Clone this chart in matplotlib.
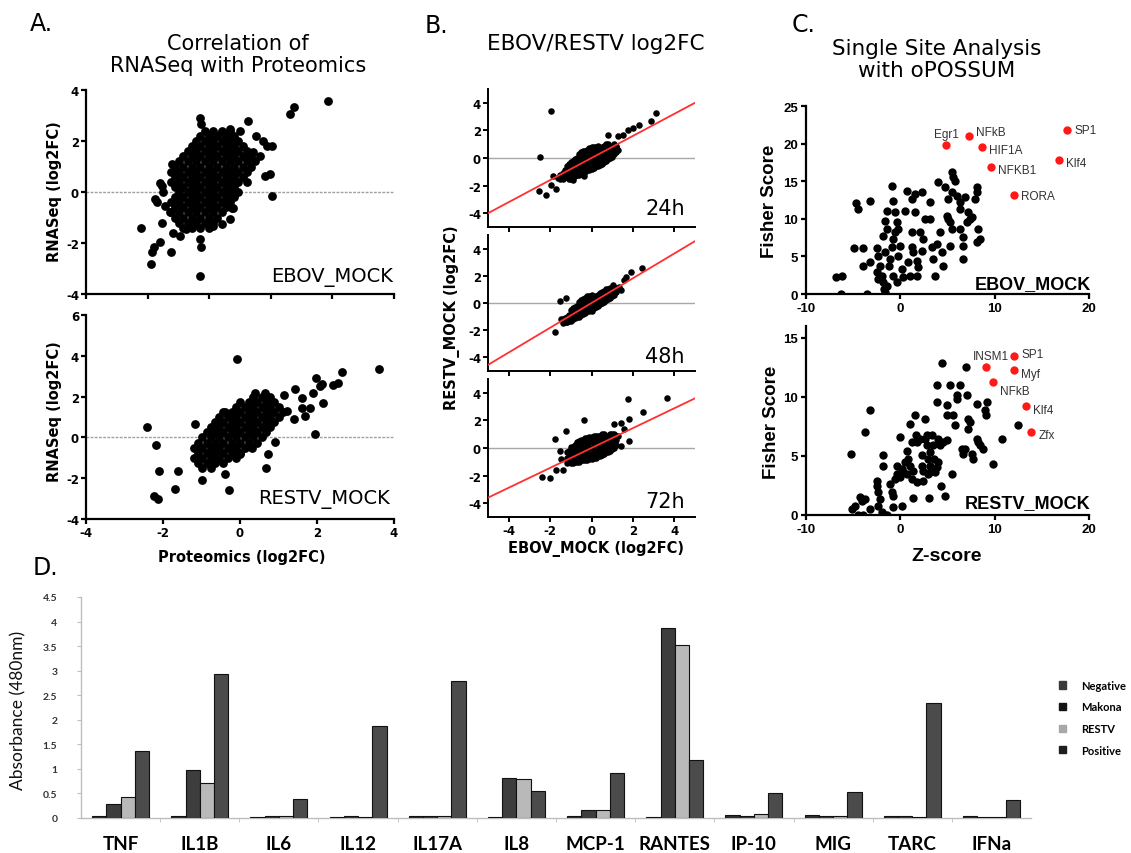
import matplotlib
matplotlib.use('Agg')
import matplotlib.pyplot as plt
from matplotlib.patches import Patch

plt.rcParams['axes.unicode_minus'] = False

W, H = 1131, 854

# ---------------- panel A: RNASeq vs Proteomics (log2FC) ----------------
# dense cloud written row by row: (y, [x ...])
a_top_rows = [
    (2.4, [-0.92, -0.7, -0.48, -0.26]),
    (2.2, [-1.03, -0.81, -0.59, -0.37, -0.15]),
    (2.0, [-1.14, -0.92, -0.7, -0.48, -0.26, -0.04]),
    (1.8, [-1.25, -1.03, -0.81, -0.59, -0.37, -0.15, 0.07]),
    (1.6, [-1.36, -1.14, -0.92, -0.7, -0.48, -0.26, -0.04, 0.18]),
    (1.4, [-1.47, -1.25, -1.03, -0.81, -0.59, -0.37, -0.15, 0.07, 0.29]),
    (1.2, [-1.58, -1.36, -1.14, -0.92, -0.7, -0.48, -0.26, -0.04, 0.18, 0.4]),
    (1.0, [-1.69, -1.47, -1.25, -1.03, -0.81, -0.59, -0.37, -0.15, 0.07, 0.29]),
    (0.8, [-1.8, -1.58, -1.36, -1.14, -0.92, -0.7, -0.48, -0.26, -0.04, 0.18]),
    (0.6, [-1.69, -1.47, -1.25, -1.03, -0.81, -0.59, -0.37, -0.15, 0.07]),
    (0.4, [-1.8, -1.58, -1.36, -1.14, -0.92, -0.7, -0.48, -0.26, -0.04, 0.18]),
    (0.2, [-1.69, -1.47, -1.25, -1.03, -0.81, -0.59, -0.37, -0.15]),
    (0.0, [-1.58, -1.36, -1.14, -0.92, -0.7, -0.48, -0.26, -0.04]),
    (-0.2, [-1.69, -1.47, -1.25, -1.03, -0.81, -0.59, -0.37, -0.15]),
    (-0.4, [-1.8, -1.58, -1.36, -1.14, -0.92, -0.7, -0.48, -0.26]),
    (-0.6, [-1.69, -1.47, -1.25, -1.03, -0.81, -0.59, -0.37]),
    (-0.8, [-1.8, -1.58, -1.36, -1.14, -0.92, -0.7, -0.48]),
    (-1.0, [-1.69, -1.47, -1.25, -1.03, -0.81, -0.59]),
    (-1.2, [-1.58, -1.36, -1.14, -0.92, -0.7]),
    (-1.4, [-1.47, -1.25, -1.03, -0.81]),
]
a_top_out_x = [-2.58, -2.32, -2.29, -2.23, -2.09, -2.09, -2.03, -2.21, -2.16, -1.96,
               -1.99, -2.03, -1.80, -1.77, -1.04, -1.01, -1.04, -1.01, -1.04, -0.47,
               -0.26, -0.21, 0.22, 0.42, 0.61, 0.69, 0.82, 0.65, 0.77, 0.82,
               1.30, 1.40, 2.28, 0.52, 0.35, 0.17, 0.0, -0.26, -0.47, -0.17,
               -1.82, -1.73, -1.56, -1.39, -0.69]
a_top_out_y = [-1.43, -2.83, -2.37, -2.17, -1.98, 0.37, 0.24, -0.28, -0.41, -0.54,
               0.0, -1.2, -2.37, 1.09, 2.92, 2.66, -1.85, -2.17, -3.28, -1.26,
               -1.07, -0.61, 2.79, 2.2, 2.0, 1.81, 1.81, 0.63, 0.70, -0.15,
               3.05, 3.33, 3.57, 1.42, 1.55, 1.28, 2.39, 2.46, 2.36, -0.61,
               -0.8, -1.59, -1.72, -1.46, -1.33]

a_bot_rows = [
    (2.0, [0.34, 0.56, 0.78]),
    (1.75, [0.01, 0.23, 0.45, 0.67, 0.89]),
    (1.5, [-0.1, 0.12, 0.34, 0.56, 0.78, 1.0]),
    (1.25, [-0.43, -0.21, 0.01, 0.23, 0.45, 0.67, 0.89, 1.11]),
    (1.0, [-0.54, -0.32, -0.1, 0.12, 0.34, 0.56, 0.78, 1.0]),
    (0.75, [-0.65, -0.43, -0.21, 0.01, 0.23, 0.45, 0.67, 0.89]),
    (0.5, [-0.76, -0.54, -0.32, -0.1, 0.12, 0.34, 0.56, 0.78]),
    (0.25, [-0.87, -0.65, -0.43, -0.21, 0.01, 0.23, 0.45, 0.67]),
    (0.0, [-0.98, -0.76, -0.54, -0.32, -0.1, 0.12, 0.34, 0.56]),
    (-0.25, [-1.09, -0.87, -0.65, -0.43, -0.21, 0.01, 0.23, 0.45]),
    (-0.5, [-1.2, -0.98, -0.76, -0.54, -0.32, -0.1, 0.12, 0.3]),
    (-0.75, [-1.09, -0.87, -0.65, -0.43, -0.21, 0.01]),
    (-1.0, [-1.2, -0.98, -0.76, -0.54, -0.32, -0.1]),
    (-1.25, [-1.09, -0.87, -0.65, -0.43]),
    (-1.5, [-0.98, -0.76]),
]
a_bot_out_x = [-0.09, -2.42, -2.18, -1.17, -2.10, -1.61, -1.70, -2.23, -2.13, -0.99,
               -0.39, -0.28, -0.39, 0.0, 0.39, 0.65, 0.67, 0.74, 0.91, 1.43,
               1.60, 1.60, 1.69, 1.82, 1.90, 1.97, 2.07, 2.16, 2.12, 1.95,
               2.42, 2.55, 2.64, 3.62, 1.39, 1.22, 1.13]
a_bot_out_y = [3.85, 0.49, -0.36, 0.65, -1.67, -1.63, -2.52, -2.88, -3.0, -2.11,
               -1.79, -2.6, 1.25, -0.81, 2.2, 2.2, -1.51, -0.81, -0.21, 2.36,
               1.95, 1.46, 1.06, 1.46, 2.2, 2.93, 2.52, 1.71, 2.6, 0.16,
               2.55, 2.65, 3.2, 3.37, 0.9, 1.3, 2.1]

# ---------------- panel B: EBOV_MOCK vs RESTV_MOCK ----------------
# dense cloud written column by column: (x, [y ...])
b_rows = {
    '24h': [
        (-1.5, [-1.5, -1.2]),
        (-1.4, [-1.5, -1.1]),
        (-1.3, [-1.3, -0.9]),
        (-1.2, [-1.4, -1.0, -0.6]),
        (-1.1, [-1.5, -1.2, -0.8, -0.4]),
        (-1.0, [-1.5, -1.1, -0.7, -0.3]),
        (-0.9, [-1.4, -1.0, -0.6, -0.2]),
        (-0.8, [-1.3, -0.9, -0.5, -0.1]),
        (-0.7, [-1.2, -0.8, -0.4, 0.0]),
        (-0.6, [-1.2, -0.8, -0.4, 0.0, 0.3]),
        (-0.5, [-1.1, -0.7, -0.3, 0.1, 0.4]),
        (-0.4, [-1.0, -0.6, -0.2, 0.2, 0.5]),
        (-0.3, [-1.0, -0.6, -0.2, 0.2, 0.5]),
        (-0.2, [-0.9, -0.5, -0.1, 0.3, 0.6]),
        (-0.1, [-0.9, -0.5, -0.1, 0.3, 0.7]),
        (0.0, [-0.8, -0.4, 0.0, 0.4, 0.8]),
        (0.1, [-0.7, -0.3, 0.1, 0.5, 0.8]),
        (0.2, [-0.6, -0.2, 0.2, 0.6, 0.8]),
        (0.3, [-0.6, -0.2, 0.2, 0.6, 0.9]),
        (0.4, [-0.5, -0.1, 0.3, 0.7]),
        (0.5, [-0.4, 0.0, 0.4, 0.8]),
        (0.6, [-0.3, 0.1, 0.5, 0.9]),
        (0.7, [-0.2, 0.2, 0.6, 1.0]),
        (0.8, [-0.1, 0.3, 0.7, 1.0]),
        (0.9, [0.0, 0.4, 0.8]),
        (1.0, [0.1, 0.5, 0.9]),
        (1.1, [0.3, 0.7, 1.0]),
        (1.2, [0.4, 0.8]),
    ],
    '48h': [
        (-1.4, [-1.5, -1.2]),
        (-1.3, [-1.4, -1.1]),
        (-1.2, [-1.4, -1.0]),
        (-1.1, [-1.3, -0.9]),
        (-1.0, [-1.3, -0.9, -0.5]),
        (-0.9, [-1.2, -0.8, -0.4]),
        (-0.8, [-1.1, -0.7, -0.3]),
        (-0.7, [-1.0, -0.6, -0.2]),
        (-0.6, [-1.0, -0.6, -0.2, 0.1]),
        (-0.5, [-0.9, -0.5, -0.1, 0.2]),
        (-0.4, [-0.8, -0.4, 0.0, 0.3]),
        (-0.3, [-0.7, -0.3, 0.1, 0.4]),
        (-0.2, [-0.6, -0.2, 0.2, 0.5]),
        (-0.1, [-0.6, -0.2, 0.2, 0.5]),
        (0.0, [-0.6, -0.2, 0.2, 0.6]),
        (0.1, [-0.4, 0.0, 0.4]),
        (0.2, [-0.3, 0.1, 0.5]),
        (0.3, [-0.2, 0.2, 0.6]),
        (0.4, [-0.1, 0.3, 0.7]),
        (0.5, [0.0, 0.4, 0.8]),
        (0.6, [0.1, 0.5, 0.9]),
        (0.7, [0.2, 0.6, 1.0]),
        (0.8, [0.3, 0.7, 1.0]),
        (0.9, [0.4, 0.8, 1.1]),
        (1.0, [0.5, 0.9]),
        (1.1, [0.6, 1.0]),
        (1.2, [0.8, 1.1]),
    ],
    '72h': [
        (-1.2, [-1.1, -0.7, -0.3]),
        (-1.1, [-1.0, -0.6, -0.2]),
        (-1.0, [-1.1, -0.7, -0.3, 0.1]),
        (-0.9, [-1.1, -0.7, -0.3, 0.1]),
        (-0.8, [-1.0, -0.6, -0.2, 0.2]),
        (-0.7, [-1.0, -0.6, -0.2, 0.2, 0.4]),
        (-0.6, [-1.0, -0.6, -0.2, 0.2, 0.5]),
        (-0.5, [-0.9, -0.5, -0.1, 0.3, 0.6]),
        (-0.4, [-0.9, -0.5, -0.1, 0.3, 0.6]),
        (-0.3, [-0.9, -0.5, -0.1, 0.3, 0.7]),
        (-0.2, [-0.9, -0.5, -0.1, 0.3, 0.7]),
        (-0.1, [-0.8, -0.4, 0.0, 0.4, 0.8]),
        (0.0, [-0.8, -0.4, 0.0, 0.4, 0.8]),
        (0.1, [-0.7, -0.3, 0.1, 0.5, 0.9]),
        (0.2, [-0.7, -0.3, 0.1, 0.5, 0.9]),
        (0.3, [-0.6, -0.2, 0.2, 0.6, 0.9]),
        (0.4, [-0.6, -0.2, 0.2, 0.6, 0.9]),
        (0.5, [-0.5, -0.1, 0.3, 0.7, 1.0]),
        (0.6, [-0.4, 0.0, 0.4, 0.8, 1.0]),
        (0.7, [-0.3, 0.1, 0.5, 0.9]),
        (0.8, [-0.3, 0.1, 0.5, 0.9]),
        (0.9, [-0.2, 0.2, 0.6, 1.0]),
        (1.0, [-0.1, 0.3, 0.7, 1.0]),
        (1.1, [0.0, 0.4, 0.8, 1.0]),
        (1.2, [0.2, 0.6, 0.9]),
    ],
}
b_out_x = {
    '24h': [-1.94, -2.5, -2.53, -2.18, -1.94, -1.70, -1.86, -1.62, 3.11, 2.87,
            2.31, 1.99, 1.75, 1.51, 1.27, 0.79, 1.19, 1.27, -0.90, -0.34],
    '48h': [-1.78, -1.54, -1.22, -1.46, -1.22, 1.03, 1.35, 1.43, 1.59, 1.68,
            1.92, 2.45],
    '72h': [-2.37, -2.02, -1.70, -1.38, -1.78, -1.22, -0.34, 1.75, 2.47, 3.67,
            1.83, 1.43, 1.11, 1.43, 1.83, 1.59, 1.27, -1.54, -1.46],
}
b_out_y = {
    '24h': [3.39, 0.05, -2.38, -2.67, -1.94, -2.25, -1.33, -1.45, 3.27, 2.67,
            2.42, 2.18, 2.06, 1.70, 1.58, 1.70, 0.85, 0.61, -1.58, -1.33],
    '48h': [-2.14, 0.12, 0.36, -1.19, -1.43, 1.31, 1.19, 0.95, 1.67, 1.94,
            2.3, 2.6],
    '72h': [-2.11, -2.18, -1.63, -1.63, 0.65, 1.25, 2.01, 3.57, 2.63, 3.59,
            2.08, 1.84, 1.72, 0.17, 0.53, 1.37, 0.89, -0.19, -0.79],
}
b_slope = {'24h': 0.80, '48h': 0.91, '72h': 0.72}
b_times = ['24h', '48h', '72h']

# ---------------- panel C: oPOSSUM single site analysis ----------------
c_top_x = [-6.82, -6.22, -6.29, -4.70, -4.45, -3.22, -4.91, -3.92, -3.92, -3.22,
           -3.57, -2.51, -2.33, -2.16, -2.51, -2.33, -1.80, -1.73, -1.63, -1.45,
           -1.98, -1.63, -1.80, -1.45, -1.63, -1.38, -0.92, -0.74, -0.57, -0.39,
           -0.21, -0.57, -0.74, -0.92, -1.10, -1.17, -0.74, -0.39, -0.21, -0.04,
           0.14, 0.32, 0.67, 0.49, 0.85, 1.02, 1.20, 1.20, 1.38, 1.55,
           1.55, 1.20, 1.73, 1.73, 1.91, 2.08, 2.26, 2.26, 2.44, 2.61,
           3.14, 3.14, 3.32, 3.50, 3.67, 3.85, 4.03, 4.20, 4.38, 4.56,
           4.73, 4.91, 5.09, 5.09, 5.27, 5.44, 5.44, 5.27, 5.44, 5.62,
           5.80, 5.97, 6.33, 6.33, 6.33, 6.68, 6.68, 6.68, 6.86, 7.03,
           7.21, 7.39, 7.56, 7.92, 8.09, 8.09, 8.09, 8.45, 8.27]
c_top_y = [2.22, 2.44, 0.0, 12.10, 11.30, 12.41, 6.07, 6.07, 3.77, 4.21,
           0.0, 6.07, 5.10, 3.77, 2.88, 1.99, 1.55, 0.66, 0.22, 1.11,
           2.44, 5.54, 7.76, 8.64, 9.75, 11.08, 14.41, 12.41, 10.86, 9.53,
           8.64, 8.20, 7.31, 6.21, 4.65, 3.77, 2.44, 1.55, 5.10, 6.43,
           3.32, 2.22, 13.74, 11.08, 4.21, 2.44, 8.20, 6.21, 5.54, 13.30,
           10.86, 12.63, 4.43, 2.44, 3.55, 8.20, 13.52, 5.76, 7.31, 9.97,
           12.19, 9.97, 6.21, 4.65, 2.44, 6.65, 14.85, 8.20, 5.54, 3.77,
           14.18, 10.42, 12.63, 9.97, 9.53, 13.52, 8.64, 6.43, 16.18, 15.51,
           15.07, 13.08, 12.19, 11.30, 8.64, 7.54, 6.43, 4.65, 12.85, 9.53,
           10.86, 9.97, 10.20, 12.63, 13.52, 14.18, 6.87, 7.31, 8.64]
c_top_tf = ['Egr1', 'NFkB', 'HIF1A', 'NFKB1', 'RORA', 'SP1', 'Klf4']
c_top_tf_x = [4.85, 7.3, 8.7, 9.6, 12.0, 17.7, 16.8]
c_top_tf_y = [19.8, 21.0, 19.5, 16.9, 13.2, 21.8, 17.8]

c_bot_x = [-5.23, -5.16, -4.81, -4.45, -4.28, -4.10, -3.92, -3.75, -3.22, -3.75,
           -3.22, -2.51, -2.51, -2.33, -2.16, -2.33, -1.98, -1.80, -1.80, -1.63,
           -1.45, -1.10, -0.92, -0.74, -0.74, -0.57, -0.39, -0.39, -0.04, -0.04,
           0.14, 0.32, 0.14, 0.49, 0.67, 0.85, 0.67, 1.02, 1.20, 1.02,
           1.20, 1.38, 1.55, 1.66, 1.80, 1.73, 2.08, 2.26, 2.26, 2.37,
           2.44, 2.61, 2.61, 2.79, 2.79, 2.97, 2.97, 3.14, 3.14, 3.14,
           3.32, 3.50, 3.57, 3.67, 3.85, 4.03, 4.03, 3.85, 3.85, 4.20,
           4.28, 4.56, 4.73, 4.91, 4.91, 4.91, 5.44, 5.27, 5.62, 5.80,
           5.97, 5.97, 6.33, 6.50, 6.68, 6.86, 6.96, 7.10, 7.21, 7.21,
           7.39, 7.56, 7.74, 8.09, 8.09, 8.27, 8.45, 8.80, 8.98, 9.08,
           9.15, 9.86, 10.74, 12.51, 4.38, 1.38, 3.04]
c_bot_y = [5.18, 0.51, 0.79, 0.0, 1.50, 1.22, 0.0, 1.36, 8.86, 7.02,
           0.51, 2.92, 2.49, 1.92, 1.36, 0.79, 0.23, 5.04, 4.19, 0.0,
           0.0, 2.63, 1.92, 1.64, 0.65, 3.06, 3.48, 4.19, 3.20, 6.60,
           3.91, 3.62, 0.79, 4.47, 5.46, 4.76, 3.48, 4.19, 3.06, 7.73,
           6.17, 3.76, 8.43, 6.74, 6.17, 2.77, 6.45, 5.04, 4.19, 3.76,
           2.92, 8.15, 6.45, 6.74, 5.89, 4.76, 3.48, 5.32, 4.19, 3.62,
           6.74, 5.89, 4.76, 3.62, 4.05, 4.47, 6.45, 10.98, 9.57, 5.89,
           2.49, 6.17, 1.64, 9.28, 8.43, 6.31, 3.48, 10.98, 8.43, 7.59,
           10.13, 9.85, 10.98, 5.60, 5.18, 5.60, 12.54, 10.13, 8.15, 7.30,
           7.87, 5.18, 4.76, 9.43, 6.45, 6.17, 5.89, 5.60, 8.86, 8.43,
           9.57, 4.33, 6.40, 7.59, 12.91, 1.44, 1.44]
c_bot_tf = ['INSM1', 'SP1', 'Myf', 'NFkB', 'Klf4', 'Zfx']
c_bot_tf_x = [9.05, 12.1, 12.05, 9.8, 13.3, 13.9]
c_bot_tf_y = [12.5, 13.5, 12.3, 11.3, 9.2, 7.0]

# ---------------- panel D: cytokine array ----------------
cytokines = ['TNF', 'IL1B', 'IL6', 'IL12', 'IL17A', 'IL8', 'MCP-1', 'RANTES',
             'IP-10', 'MIG', 'TARC', 'IFNa']
series = ['Negative', 'Makona', 'RESTV', 'Positive']
negative = [0.05, 0.05, 0.03, 0.03, 0.04, 0.03, 0.04, 0.03, 0.07, 0.07, 0.04, 0.05]
makona = [0.29, 0.97, 0.05, 0.05, 0.05, 0.82, 0.16, 3.86, 0.05, 0.05, 0.04, 0.03]
restv = [0.43, 0.72, 0.04, 0.03, 0.05, 0.79, 0.16, 3.52, 0.08, 0.05, 0.02, 0.03]
positive = [1.36, 2.93, 0.39, 1.87, 2.78, 0.54, 0.92, 1.19, 0.50, 0.52, 2.34, 0.37]
d_ticks = [0, 0.5, 1, 1.5, 2, 2.5, 3, 3.5, 4, 4.5]


def flat_rows(rows, by_y):
    xs, ys = [], []
    for k, vals in rows:
        for v in vals:
            if by_y:
                xs.append(v); ys.append(k)
            else:
                xs.append(k); ys.append(v)
    return xs, ys


fig = plt.figure(figsize=(W / 100, H / 100), dpi=100)
fig.patch.set_facecolor('white')


def add_ax(l, t, r, b):
    return fig.add_axes([l / W, 1 - b / H, (r - l) / W, (b - t) / H])


def ftext(x, y, s, **kw):
    fig.text(x / W, 1 - y / H, s, **kw)


def prism(ax, lw, size, family, pad=1.5, length=3.5):
    for s in ('top', 'right'):
        ax.spines[s].set_visible(False)
    for s in ('left', 'bottom'):
        ax.spines[s].set_linewidth(lw)
    ax.tick_params(direction='out', length=length, width=lw, labelsize=size, pad=pad)
    for lab in ax.get_xticklabels() + ax.get_yticklabels():
        lab.set_fontweight('bold')
        lab.set_family(family)


VER = 'DejaVu Sans'
ARI = 'Liberation Sans'

# ---- A ----
axA1 = add_ax(86, 91, 394, 295)
x, y = flat_rows(a_top_rows, True)
axA1.scatter(x + a_top_out_x, y + a_top_out_y, s=40, color='black', lw=0, zorder=3)
axA1.axhline(0, color='#a0a0a0', lw=1, ls=(0, (2, 1)), zorder=1)
axA1.set_xlim(-4, 4); axA1.set_ylim(-4, 4)
axA1.set_xticks([-4, -2.4, -0.8, 0.8, 2.4, 4]); axA1.set_xticklabels([])
axA1.set_yticks([-4, -2, 0, 2, 4])
prism(axA1, 1.6, 8.5, VER)

axA2 = add_ax(86, 316, 394, 520)
x, y = flat_rows(a_bot_rows, True)
axA2.scatter(x + a_bot_out_x, y + a_bot_out_y, s=40, color='black', lw=0, zorder=3)
axA2.axhline(0, color='#a0a0a0', lw=1, ls=(0, (2, 1)), zorder=1)
axA2.set_xlim(-4, 4); axA2.set_ylim(-4, 6)
axA2.set_xticks([-4, -2, 0, 2, 4]); axA2.set_yticks([-4, -2, 0, 2, 4, 6])
prism(axA2, 1.6, 8.5, VER)

ftext(30, 24, 'A.', fontsize=17, family=VER, va='center')
ftext(238, 55, 'Correlation of\nRNASeq with Proteomics', fontsize=15, family=VER,
      ha='center', va='center', linespacing=1.15)
ftext(55, 192, 'RNASeq (log2FC)', fontsize=10.5, family=VER, weight='bold',
      rotation=90, ha='center', va='center')
ftext(55, 412, 'RNASeq (log2FC)', fontsize=10.5, family=VER, weight='bold',
      rotation=90, ha='center', va='center')
ftext(242, 558, 'Proteomics (log2FC)', fontsize=10.5, family=VER, weight='bold',
      ha='center', va='center')
ftext(393, 278, 'EBOV_MOCK', fontsize=14, family=VER, ha='right', va='center')
ftext(390, 500, 'RESTV_MOCK', fontsize=14, family=VER, ha='right', va='center')

# ---- B ----
b_boxes = [(90, 228), (236, 372), (380, 518)]
b_label_y = [209, 357, 502]
for i, t in enumerate(b_times):
    top, bot = b_boxes[i]
    ax = add_ax(488, top, 695, bot)
    x, y = flat_rows(b_rows[t], False)
    ax.scatter(x + b_out_x[t], y + b_out_y[t], s=22, color='black', lw=0, zorder=3)
    ax.axhline(0, color='#a8a8a8', lw=1, zorder=1)
    ax.plot([-5, 5], [-5 * b_slope[t], 5 * b_slope[t]], color='#ff3030', lw=1.3, zorder=4)
    ax.set_xlim(-5, 5); ax.set_ylim(-5, 5)
    ax.set_xticks([-4, -2, 0, 2, 4]); ax.set_yticks([-4, -2, 0, 2, 4])
    if i < 2:
        ax.set_xticklabels([])
    prism(ax, 1.4, 8.5, VER, pad=1.5)
    ftext(685, b_label_y[i], t, fontsize=15, family=VER, ha='right', va='center')

ftext(425, 26, 'B.', fontsize=17, family=VER, va='center')
ftext(596, 44, 'EBOV/RESTV log2FC', fontsize=15.5, family=VER, ha='center', va='center')
ftext(452, 318, 'RESTV_MOCK (log2FC)', fontsize=10.5, family=VER, weight='bold',
      rotation=90, ha='center', va='center')
ftext(596, 549, 'EBOV_MOCK (log2FC)', fontsize=10.5, family=VER, weight='bold',
      ha='center', va='center')

# ---- C ----
c_top_off = [(0, 11, 'center'), (7, 4, 'left'), (7, -3, 'left'), (7, -3, 'left'),
             (7, -1, 'left'), (7, 0, 'left'), (7, -3, 'left')]
c_bot_off = [(5, 11, 'center'), (7, 2, 'left'), (7, -4, 'left'), (7, -9, 'left'),
             (7, -4, 'left'), (7, -3, 'left')]

axC1 = add_ax(806, 107, 1089, 295)
axC1.scatter(c_top_x, c_top_y, s=36, color='black', lw=0, zorder=3)
axC1.scatter(c_top_tf_x, c_top_tf_y, s=36, color='#ff1a1a', lw=0, zorder=3)
for name, tx, ty, (dx, dy, ha) in zip(c_top_tf, c_top_tf_x, c_top_tf_y, c_top_off):
    axC1.annotate(name, (tx, ty), xytext=(dx, dy), textcoords='offset pixels',
                  fontsize=8.5, family=ARI, color='#333333', ha=ha, va='center')
axC1.set_xlim(-10, 20); axC1.set_ylim(0, 25)
axC1.set_xticks([-10, 0, 10, 20]); axC1.set_yticks([0, 5, 10, 15, 20, 25])
prism(axC1, 1.6, 9.5, ARI, pad=2)

axC2 = add_ax(806, 327, 1089, 516)
axC2.scatter(c_bot_x, c_bot_y, s=36, color='black', lw=0, zorder=3)
axC2.scatter(c_bot_tf_x, c_bot_tf_y, s=36, color='#ff1a1a', lw=0, zorder=3)
for name, tx, ty, (dx, dy, ha) in zip(c_bot_tf, c_bot_tf_x, c_bot_tf_y, c_bot_off):
    axC2.annotate(name, (tx, ty), xytext=(dx, dy), textcoords='offset pixels',
                  fontsize=8.5, family=ARI, color='#333333', ha=ha, va='center')
axC2.set_xlim(-10, 20); axC2.set_ylim(0, 16)
axC2.set_xticks([-10, 0, 10, 20]); axC2.set_yticks([0, 5, 10, 15])
prism(axC2, 1.6, 9.5, ARI, pad=2)

ftext(792, 25, 'C.', fontsize=17, family=VER, va='center')
ftext(937, 60, 'Single Site Analysis\nwith oPOSSUM', fontsize=15.5, family=VER,
      ha='center', va='center', linespacing=1.1)
ftext(769, 201, 'Fisher Score', fontsize=13.5, family=ARI, weight='bold',
      rotation=90, ha='center', va='center')
ftext(771, 422, 'Fisher Score', fontsize=13.5, family=ARI, weight='bold',
      rotation=90, ha='center', va='center')
ftext(947, 557, 'Z-score', fontsize=14, family=ARI, weight='bold', ha='center', va='center')
ftext(1091, 285, 'EBOV_MOCK', fontsize=13, family=ARI, weight='bold', ha='right', va='center')
ftext(1090, 504, 'RESTV_MOCK', fontsize=13, family=ARI, weight='bold', ha='right', va='center')

# ---- D ----
axD = add_ax(81, 598, 1031, 819)
bar_colors = ['#2f2f2f', '#3d3d3d', '#b9b9b9', '#4b4b4b']
legend_colors = ['#3a3a3a', '#141414', '#a8a8a8', '#1e1e1e']
values = [negative, makona, restv, positive]
bw = 0.18
for j, vals in enumerate(values):
    pos = [i + (j - 1.5) * bw for i in range(len(cytokines))]
    axD.bar(pos, vals, width=bw, color=bar_colors[j], edgecolor='#111111', lw=0.8,
            zorder=3)
axD.set_xlim(-0.5, len(cytokines) - 0.5)
axD.set_ylim(0, 4.5)
axD.set_yticks(d_ticks)
axD.set_yticklabels(['%g' % v for v in d_ticks])
axD.set_xticks(range(len(cytokines)))
axD.set_xticklabels(cytokines)
axD.set_xticks([i - 0.5 for i in range(1, len(cytokines))], minor=True)
for s in ('top', 'right'):
    axD.spines[s].set_visible(False)
for s in ('left', 'bottom'):
    axD.spines[s].set_color('#bdbdbd')
    axD.spines[s].set_linewidth(1)
axD.tick_params(axis='y', length=3, color='#bdbdbd', pad=14, labelsize=7.5,
                labelcolor='#333333')
axD.tick_params(axis='x', which='major', length=0, pad=12, labelsize=13.5)
axD.tick_params(axis='x', which='minor', length=3, color='#bdbdbd')
for lab in axD.get_yticklabels():
    lab.set_family('Lato'); lab.set_fontweight('bold')
for lab in axD.get_xticklabels():
    lab.set_family('Lato'); lab.set_fontweight('bold')

handles = [Patch(facecolor=c, edgecolor=c) for c in legend_colors]
fig.legend(handles, series, loc='upper left', bbox_to_anchor=(1050 / W, 1 - 672 / H),
           frameon=False, prop=dict(family='Lato', weight='bold', size=8),
           handlelength=0.6, handleheight=0.6, handletextpad=1.4, labelspacing=0.95,
           borderpad=0.3)

ftext(33, 568, 'D.', fontsize=17, family=VER, va='center')
ftext(18, 710, 'Absorbance (480nm)', fontsize=12.5, family='Lato', rotation=90,
      ha='center', va='center', color='#111111')

fig.savefig('out.png', dpi=100, facecolor='white')
